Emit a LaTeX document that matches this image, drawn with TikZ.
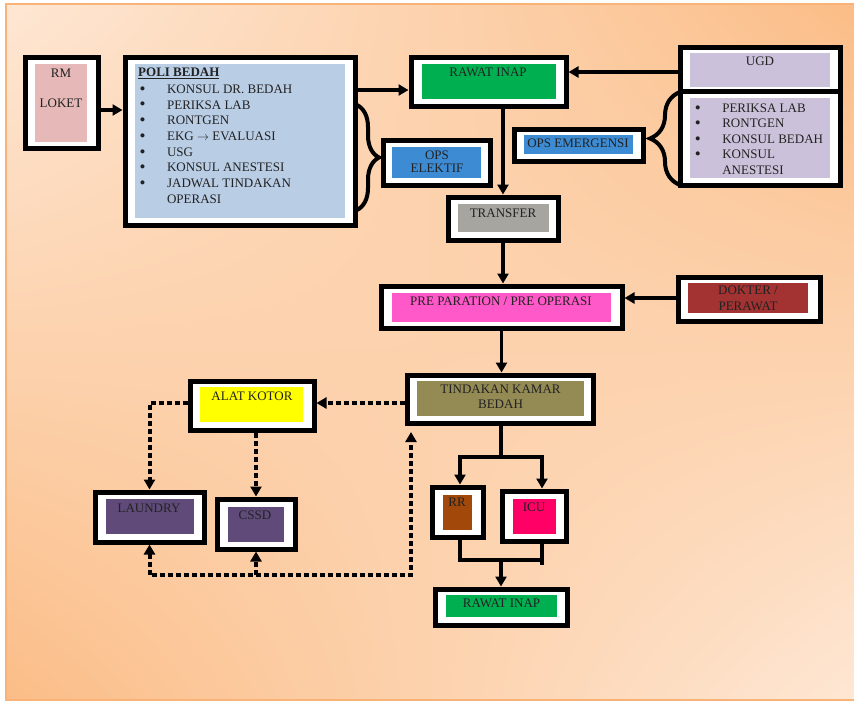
\documentclass[tikz,border=0pt]{standalone}
\usepackage{fontspec}
\setmainfont{Liberation Serif}
\usetikzlibrary{arrows.meta,fit,decorations.pathreplacing,positioning,shadings}

\definecolor{bglight}{HTML}{FEE7D4}
\definecolor{bgorange}{HTML}{FBBD87}
\definecolor{bgedge}{HTML}{F9B277}
\definecolor{rmpink}{HTML}{E6B9B8}
\definecolor{poliblue}{HTML}{B9CDE5}
\definecolor{inapgreen}{HTML}{00B050}
\definecolor{ugdlilac}{HTML}{CCC1DA}
\definecolor{opsblue}{HTML}{3D8BD3}
\definecolor{transgray}{HTML}{A6A5A0}
\definecolor{prepink}{HTML}{FF58C8}
\definecolor{dokred}{HTML}{A33232}
\definecolor{tkbolive}{HTML}{948A54}
\definecolor{alatyellow}{HTML}{FFFF00}
\definecolor{washpurple}{HTML}{5F4A7A}
\definecolor{rrbrown}{HTML}{A1480A}
\definecolor{icured}{HTML}{FF0066}
\definecolor{txt}{HTML}{222222}

\newcommand{\boxfont}{\fontsize{13}{15.8}\selectfont}
\newcommand{\bul}{\makebox[27.4pt][l]{\raisebox{-0.9pt}{\fontsize{17}{17}\selectfont\textbullet}}}
\newcommand{\nobul}{\makebox[27.4pt][l]{}}

\tikzset{
  frame/.style={draw=black, line width=5pt, fill=white, inner sep=0pt},
  core/.style={inner sep=0pt, draw=none},
  lbl/.style={font=\boxfont, text=txt, inner sep=0pt, anchor=base},
  arr/.style={line width=3.5pt, -{Triangle[length=10pt,width=11pt]}},
  link/.style={line width=3.5pt},
  dotarr/.style={line width=4pt, dash pattern=on 5pt off 3pt, -{Triangle[length=10pt,width=11pt]}},
  dotboth/.style={dotarr, {Triangle[length=10pt,width=11pt]}-{Triangle[length=10pt,width=11pt]}},
  curly/.style={line width=4pt, decorate, decoration={brace, amplitude=#1}},
}

\begin{document}
\begin{tikzpicture}[x=1pt, y=-1pt]
  \fill[white, use as bounding box] (0,0) rectangle (854,702);
  \shade[upper left=bglight, upper right=bgorange, lower left=bgorange, lower right=bglight] (6,4) rectangle (854,700);
  \draw[bgedge, line width=1.5pt] (854,4) -- (6,4) -- (6,700) -- (854,700);

  % top row
  \node[frame, fit={(25,57) (98,148)}] (rm) {};                          %RM LOKET
  \node[core, fill=rmpink, fit={(35,64) (87,142)}] (rmin) {};
  \node[lbl] (rmtxt) at (61,77.3) {RM};
  \node[lbl] (lokettxt) at (61,107.3) {LOKET};

  \node[frame, fit={(125,57) (355,225)}] (poli) {};                      %POLI BEDAH
  \node[core, fill=poliblue, fit={(135,64) (345,218)}] (poliin) {};
  \node[lbl, anchor=base west] (polihead) at (138,76.3) {\textbf{\underline{POLI BEDAH}}};
  \node[lbl, anchor=base west] (politems) at (139.5,93.3) {\fontsize{13}{15.7}\selectfont
    \begin{tabular}[t]{@{}l@{}}
      \bul KONSUL DR. BEDAH\\
      \bul PERIKSA LAB\\
      \bul RONTGEN\\
      \bul EKG $\rightarrow$ EVALUASI\\
      \bul USG\\
      \bul KONSUL ANESTESI\\
      \bul JADWAL TINDAKAN\\
      \nobul OPERASI
    \end{tabular}};

  \node[frame, fit={(411,57) (566,106)}] (rawat) {};                     %RAWAT INAP
  \node[core, fill=inapgreen, fit={(422,64) (556,99)}] (rawatin) {};
  \node[lbl] (rawattxt) at (488,76.3) {RAWAT INAP};

  \node[frame, fit={(680,91) (840,185)}] (ugdlist) {};                   %UGD
  \node[frame, fit={(680,47) (840,91)}] (ugd) {};
  \node[core, fill=ugdlilac, fit={(690,53) (830,87)}] (ugdin) {};
  \node[core, fill=ugdlilac, fit={(690,98) (830,178)}] (ugdlistin) {};
  \node[lbl] (ugdtxt) at (760,65.3) {UGD};
  \node[lbl, anchor=base west] (ugditems) at (694.7,112.3) {\fontsize{13}{15.5}\selectfont
    \begin{tabular}[t]{@{}l@{}}
      \bul PERIKSA LAB\\
      \bul RONTGEN\\
      \bul KONSUL BEDAH\\
      \bul KONSUL\\
      \nobul ANESTESI
    \end{tabular}};

  \node[frame, fit={(514,129) (643,161)}] (emerg) {};                    %OPS EMERGENSI
  \node[core, fill=opsblue, fit={(524,135) (633,154)}] (emergin) {};
  \node[lbl] (emergtxt) at (578,147.3) {OPS EMERGENSI};

  \node[frame, fit={(383,140) (490,185)}] (elektif) {};                  %OPS ELEKTIF
  \node[core, fill=opsblue, fit={(392,147) (481,178)}] (elektifin) {};
  \node[lbl, anchor=center, align=center, font=\fontsize{13}{13.3}\selectfont] (elektiftxt) at (437,161.5) {OPS\\ELEKTIF};

  % middle column
  \node[frame, fit={(448,197) (558,240)}] (transfer) {};                 %TRANSFER
  \node[core, fill=transgray, fit={(458,204) (549,232)}] (transferin) {};
  \node[lbl] (transfertxt) at (503,217.3) {TRANSFER};

  \node[frame, fit={(381,286) (622,328)}] (pre) {};                      %PRE OPERASI
  \node[core, fill=prepink, fit={(392,293) (611,322)}] (prein) {};
  \node[lbl] (pretxt) at (501,305.3) {PRE PARATION / PRE OPERASI};

  \node[frame, fit={(678,277) (820,321)}] (dokter) {};                   %DOKTER
  \node[core, fill=dokred, fit={(688,283) (808,313)}] (dokterin) {};
  \node[lbl, anchor=center, align=center, font=\fontsize{13}{16}\selectfont] (doktertxt) at (748,298) {DOKTER /\\PERAWAT};

  \node[frame, fit={(407,375) (593,423)}] (tindakan) {};                 %KAMAR BEDAH
  \node[core, fill=tkbolive, fit={(417,381) (584,416)}] (tindakanin) {};
  \node[lbl, anchor=center, align=center, font=\fontsize{13}{15}\selectfont] (tindakantxt) at (500.5,396.5) {TINDAKAN KAMAR\\BEDAH};

  % bottom left
  \node[frame, fit={(190,381) (314,430)}] (alat) {};                     %ALAT KOTOR
  \node[core, fill=alatyellow, fit={(200,387) (303,422)}] (alatin) {};
  \node[lbl] (alattxt) at (252,400.3) {ALAT KOTOR};

  \node[frame, fit={(95,492) (204,542)}] (laundry) {};                   %LAUNDRY
  \node[core, fill=washpurple, fit={(106,499) (194,534)}] (laundryin) {};
  \node[lbl] (laundrytxt) at (149,512.3) {LAUNDRY};

  \node[frame, fit={(217,499) (295,549)}] (cssd) {};                     %CSSD
  \node[core, fill=washpurple, fit={(228,507) (284,542)}] (cssdin) {};
  \node[lbl] (cssdtxt) at (255,519.3) {CSSD};

  % bottom right
  \node[frame, fit={(432,487) (483,537)}] (rr) {};                       %RR
  \node[core, fill=rrbrown, fit={(443,495) (472,530)}] (rrin) {};
  \node[lbl] (rrtxt) at (457,506.3) {RR};

  \node[frame, fit={(502,491) (566,541)}] (icu) {};                      %ICU
  \node[core, fill=icured, fit={(513,499) (556,534)}] (icuin) {};
  \node[lbl] (icutxt) at (534,511.3) {ICU};

  \node[frame, fit={(435,589) (567,625)}] (rawatb) {};                   %RAWAT INAP 2
  \node[core, fill=inapgreen, fit={(446,595) (557,617)}] (rawatbin) {};
  \node[lbl] (rawatbtxt) at (501.5,607.3) {RAWAT INAP};

  % braces
  \draw[curly=22pt] (357,105) -- (357,210);
  \draw[curly=30pt] (680,185) -- (680,92);

  % solid flow
  \draw[arr] (rm.east |- 0,110) -- (poli.west |- 0,110);
  \draw[arr] (poli.east |- 0,90) -- (rawat.west |- 0,90);
  \draw[arr] (ugd.west |- 0,72) -- (rawat.east |- 0,72);
  \draw[arr] (transfer.north |- rawat.south) -- (transfer.north);
  \draw[arr] (transfer.south) -- (transfer.south |- pre.north);
  \draw[arr] (dokter.west |- 0,298) -- (pre.east |- 0,298);
  \draw[arr] (pre.south) -- (pre.south |- tindakan.north);
  \coordinate (split) at (501,457);
  \draw[link] (tindakan.south -| split) -- (split);
  \draw[arr] (split) -| (rr.north -| 460,0);
  \draw[arr] (split) -| (icu.north -| 542,0);
  \coordinate (merge) at (501,560);
  \draw[link] (rr.south -| 460,0) |- (542,560);
  \draw[link] (icu.south -| 542,0) -- (542,565);
  \draw[arr] (merge) -- (rawatb.north -| merge);

  % dotted flow
  \draw[dotarr] (tindakan.west |- 0,403) -- (alat.east |- 0,403);
  \draw[dotarr] (alat.west |- 0,403) -| (laundry.north);
  \draw[dotarr] (cssd.north |- alat.south) -- (cssd.north);
  \coordinate (loopend) at (411,575);
  \draw[dotboth] (laundry.south) |- (loopend) -- (loopend |- 0,432);
  \draw[dotarr] (cssd.south |- loopend) -- (cssd.south);
\end{tikzpicture}
\end{document}
